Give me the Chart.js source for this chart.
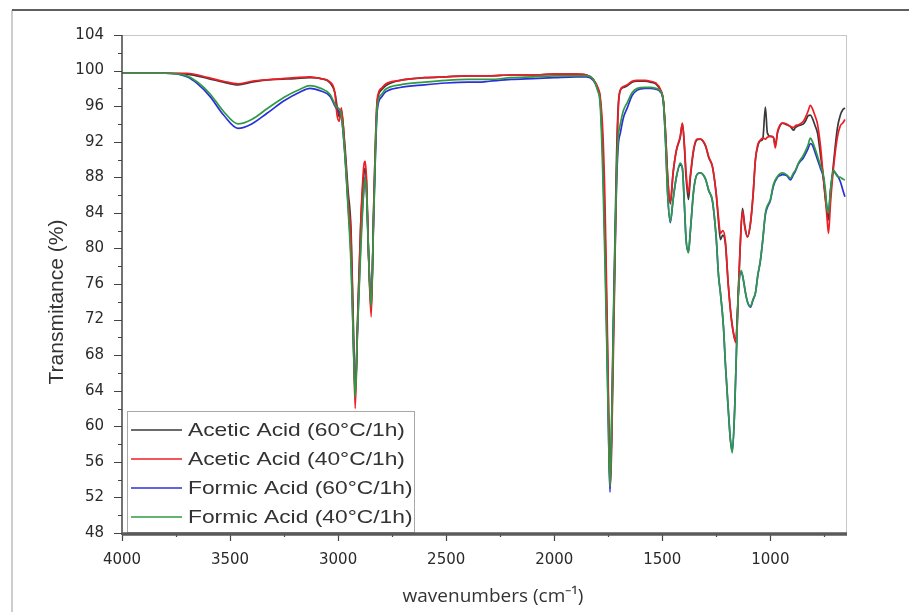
<!DOCTYPE html>
<html lang="en">
<head>
  <meta charset="UTF-8" />
  <title>FTIR spectra</title>
  <script src="https://cdn.jsdelivr.net/npm/chart.js"></script>
  <style>
    body { margin: 0; background: #fff; }
    #wrap { width: 909px; height: 612px; position: relative; }
  </style>
</head>
<body>
  <div id="wrap"><canvas id="ftirChart"></canvas></div>

  <script>
    // wavenumbers (cm-1) for the two acetic acid runs
    const aceticWn = [4000, 3900, 3800, 3700, 3600, 3530, 3463, 3400, 3300, 3200, 3130, 3080, 3037, 3015, 3005, 2995, 2985, 2970, 2954, 2940, 2930, 2921, 2910, 2895, 2880, 2875, 2868, 2860, 2847, 2835, 2819, 2800, 2780, 2713, 2600, 2500, 2400, 2300, 2200, 2100, 2000, 1900, 1850, 1819, 1800, 1787, 1775, 1765, 1755, 1747, 1742, 1736, 1728, 1720, 1712, 1704, 1694, 1680, 1662, 1640, 1616, 1580, 1555, 1530, 1509, 1495, 1485, 1475, 1463, 1450, 1435, 1417, 1407, 1398, 1390, 1379, 1370, 1355, 1340, 1324, 1300, 1285, 1268, 1250, 1240, 1231, 1220, 1208, 1195, 1180, 1165, 1160, 1150, 1140, 1129, 1118, 1106, 1092, 1080, 1069, 1058, 1046, 1035, 1023, 1014, 1000, 986, 977, 967, 955, 944, 925, 907, 893, 884, 870, 847, 838, 826, 815, 805, 793, 782, 768, 755, 745, 738, 731, 722, 708, 690, 676, 665, 655];
    const acetic60 = [99.7, 99.7, 99.7, 99.6, 99.1, 98.7, 98.4, 98.7, 99.0, 99.1, 99.2, 99.1, 98.6, 97.5, 96.0, 94.8, 95.5, 92.0, 86.5, 82.0, 72.0, 63.5, 72.0, 83.0, 88.5, 89.0, 87.0, 80.0, 73.0, 85.0, 96.5, 97.8, 98.3, 98.9, 99.2, 99.3, 99.4, 99.4, 99.5, 99.5, 99.6, 99.6, 99.5, 99.0, 98.0, 96.7, 91.0, 82.0, 70.0, 59.0, 53.8, 58.0, 70.0, 80.0, 90.0, 96.0, 97.8, 98.1, 98.3, 98.7, 98.8, 98.8, 98.7, 98.5, 97.8, 96.5, 93.0, 88.0, 85.0, 88.5, 91.0, 92.5, 94.0, 91.5, 88.0, 85.5, 88.0, 91.0, 92.2, 92.3, 91.5, 90.2, 89.2, 86.0, 83.0, 81.0, 81.5, 80.5, 76.0, 72.0, 69.8, 69.6, 74.0, 80.0, 84.5, 82.5, 81.3, 82.8, 86.0, 90.0, 91.5, 92.1, 92.3, 95.9, 93.0, 92.6, 92.5, 91.6, 93.0, 93.8, 94.1, 93.9, 93.7, 93.3, 93.6, 93.8, 94.0, 94.3, 94.9, 95.0, 94.6, 93.8, 93.0, 90.5, 88.0, 85.5, 84.3, 83.2, 86.0, 89.5, 93.5, 95.0, 95.6, 95.8];
    const acetic40 = [99.7, 99.7, 99.7, 99.7, 99.2, 98.8, 98.5, 98.8, 99.0, 99.2, 99.3, 99.1, 98.7, 97.5, 95.0, 94.3, 95.8, 91.5, 85.5, 81.0, 71.0, 62.0, 71.5, 83.0, 89.5, 89.8, 87.5, 80.0, 72.3, 85.0, 96.8, 98.0, 98.5, 98.9, 99.2, 99.3, 99.4, 99.4, 99.5, 99.5, 99.6, 99.6, 99.5, 99.0, 98.2, 97.0, 93.0, 85.0, 72.0, 60.0, 53.3, 56.0, 66.0, 77.0, 88.0, 95.5, 97.8, 98.2, 98.4, 98.8, 98.9, 98.9, 98.8, 98.6, 97.9, 96.6, 93.0, 88.0, 85.2, 88.5, 91.0, 92.6, 94.1, 91.8, 88.5, 86.2, 88.3, 91.2, 92.3, 92.3, 91.6, 90.3, 89.2, 86.0, 83.5, 81.7, 82.0, 80.8, 76.0, 72.0, 69.8, 69.4, 74.0, 80.0, 84.2, 82.3, 81.3, 82.9, 86.0, 90.0, 91.7, 92.2, 92.4, 92.3, 92.5, 92.6, 92.5, 91.3, 93.1, 93.9, 94.1, 94.0, 93.7, 93.6, 93.8, 93.9, 94.3, 94.7, 95.4, 96.1, 95.7, 94.9, 94.0, 91.5, 88.0, 85.5, 83.5, 81.7, 85.0, 89.0, 92.5, 93.8, 94.1, 94.5];

    // wavenumbers (cm-1) for the two formic acid runs
    const formicWn = [4000, 3900, 3800, 3700, 3650, 3593, 3530, 3463, 3400, 3329, 3250, 3176, 3130, 3080, 3037, 3010, 3000, 2985, 2970, 2954, 2940, 2930, 2921, 2910, 2895, 2880, 2875, 2868, 2860, 2847, 2835, 2819, 2800, 2780, 2713, 2600, 2500, 2400, 2350, 2300, 2200, 2100, 2000, 1900, 1850, 1819, 1800, 1787, 1775, 1765, 1755, 1747, 1742, 1736, 1728, 1720, 1712, 1704, 1694, 1680, 1662, 1640, 1616, 1580, 1555, 1530, 1509, 1495, 1485, 1475, 1463, 1450, 1435, 1417, 1407, 1398, 1390, 1379, 1370, 1355, 1340, 1324, 1300, 1285, 1268, 1250, 1240, 1231, 1217, 1208, 1195, 1185, 1176, 1165, 1155, 1148, 1135, 1129, 1115, 1106, 1092, 1080, 1069, 1058, 1046, 1035, 1023, 1014, 1000, 986, 967, 955, 944, 925, 907, 893, 884, 870, 847, 826, 815, 805, 793, 782, 768, 755, 745, 738, 731, 722, 708, 690, 676, 665, 655];
    const formic60 = [99.7, 99.7, 99.7, 99.3, 98.5, 97.1, 95.0, 93.5, 94.0, 95.2, 96.6, 97.6, 98.0, 97.7, 97.1, 95.8, 95.5, 94.8, 91.0, 85.0, 79.0, 70.0, 64.0, 71.0, 81.0, 87.0, 88.0, 86.0, 80.0, 74.0, 84.0, 95.5, 97.0, 97.6, 98.1, 98.4, 98.6, 98.7, 98.7, 98.8, 99.0, 99.1, 99.2, 99.3, 99.3, 98.9, 98.0, 96.5, 90.0, 80.0, 68.0, 57.0, 52.6, 57.0, 68.0, 78.0, 87.0, 91.5, 93.0, 94.7, 95.8, 97.2, 97.8, 98.0, 98.0, 97.9, 97.6, 96.5, 92.0, 86.0, 82.9, 85.5, 88.0, 89.4, 89.0, 85.0, 81.0, 79.6, 82.0, 86.5, 88.3, 88.5, 87.8, 86.5, 85.3, 81.0, 77.0, 75.0, 71.2, 67.0, 62.0, 58.5, 57.2, 62.0, 70.0, 75.0, 77.3, 77.0, 75.0, 74.0, 73.4, 74.2, 75.0, 77.0, 78.6, 81.0, 83.8, 84.6, 85.4, 87.0, 88.0, 88.2, 88.3, 88.2, 87.7, 88.3, 88.7, 89.5, 90.2, 91.2, 91.8, 91.6, 90.8, 90.0, 89.0, 88.0, 86.0, 84.5, 84.0, 86.5, 88.6, 88.2, 87.5, 86.6, 85.8];
    const formic40 = [99.7, 99.7, 99.7, 99.4, 98.7, 97.4, 95.4, 94.0, 94.5, 95.7, 97.0, 97.9, 98.3, 98.0, 97.3, 96.0, 95.8, 95.0, 91.0, 84.5, 78.0, 70.0, 63.2, 71.0, 80.0, 87.0, 87.9, 86.0, 80.0, 73.5, 84.0, 96.0, 97.3, 97.9, 98.4, 98.7, 98.9, 99.0, 99.0, 99.0, 99.2, 99.3, 99.4, 99.4, 99.4, 99.0, 97.8, 96.0, 88.0, 78.0, 67.0, 57.0, 53.2, 58.0, 69.0, 79.0, 88.0, 92.5, 94.0, 95.5, 96.4, 97.5, 98.0, 98.1, 98.1, 98.0, 97.7, 96.5, 92.0, 86.0, 83.0, 85.5, 88.0, 89.6, 89.0, 85.0, 81.0, 79.5, 82.0, 86.5, 88.3, 88.5, 87.8, 86.5, 85.4, 81.0, 77.0, 75.0, 71.2, 67.0, 62.0, 58.5, 57.0, 62.0, 70.0, 75.0, 77.5, 77.0, 75.0, 74.0, 73.5, 74.3, 75.0, 77.0, 78.7, 81.0, 84.0, 84.8, 85.5, 87.2, 88.1, 88.4, 88.5, 88.3, 87.9, 88.5, 88.8, 89.6, 90.5, 91.6, 92.4, 92.0, 91.2, 90.4, 89.3, 88.3, 86.5, 84.5, 84.0, 86.5, 88.8, 88.1, 88.0, 87.8, 87.7];

    const seriesLabels = ['Acetic Acid (60°C/1h)', 'Acetic Acid (40°C/1h)', 'Formic Acid (60°C/1h)', 'Formic Acid (40°C/1h)'];
    const seriesColors = ['#3a3a3a', '#ee1c25', '#2b2fd8', '#2f9a45'];

    const xTickValues = [4000, 3500, 3000, 2500, 2000, 1500, 1000];
    const yTickValues = [48, 52, 56, 60, 64, 68, 72, 76, 80, 84, 88, 92, 96, 100, 104];
    const xTitle = 'wavenumbers (cm⁻¹)';
    const yTitle = 'Transmitance (%)';

    const toPoints = (xs, ys) => xs.map((x, i) => ({ x: x, y: ys[i] }));

    // outer frame, tick marks, axis lines, axis titles and the boxed legend
    const frameAndLegend = {
      id: 'frameAndLegend',
      beforeDraw(chart) {
        const ctx = chart.ctx;
        ctx.save();
        ctx.fillStyle = '#fff';
        ctx.fillRect(0, 0, chart.width, chart.height);
        ctx.strokeStyle = '#bdbdbd';
        ctx.lineWidth = 1.5;
        ctx.beginPath();
        ctx.moveTo(12, 10); ctx.lineTo(12, chart.height);
        ctx.stroke();
        ctx.strokeStyle = '#5f5f5f';
        ctx.lineWidth = 2;
        ctx.beginPath();
        ctx.moveTo(12, 10); ctx.lineTo(chart.width, 10);
        ctx.stroke();
        ctx.restore();
      },
      afterDatasetsDraw(chart) {
        const ctx = chart.ctx;
        ctx.save();
        ctx.fillStyle = '#fff';
        ctx.fillRect(127, 411, 287, 121);
        ctx.strokeStyle = '#a8a8a8';
        ctx.lineWidth = 1;
        ctx.strokeRect(127.5, 411.5, 287, 121);
        const rows = [430, 459, 488, 517];
        ctx.font = '19px "Liberation Sans", Arial, sans-serif';
        ctx.textBaseline = 'middle';
        chart.data.datasets.forEach((ds, i) => {
          const y = rows[i];
          ctx.strokeStyle = ds.borderColor;
          ctx.lineWidth = 1.5;
          ctx.beginPath();
          ctx.moveTo(131, y); ctx.lineTo(182, y);
          ctx.stroke();
          ctx.fillStyle = '#333';
          ctx.save();
          ctx.translate(188, y + 1);
          ctx.scale(1.2, 1);
          ctx.fillText(ds.label, 0, 0);
          ctx.restore();
        });
        ctx.restore();
      },
      afterDraw(chart) {
        const ctx = chart.ctx;
        const a = chart.chartArea;
        const xs = chart.scales.x, ys = chart.scales.y;
        ctx.save();
        // light top and right border
        ctx.strokeStyle = '#c8c8c8';
        ctx.lineWidth = 1;
        ctx.beginPath();
        ctx.moveTo(a.left, a.top + 0.5); ctx.lineTo(a.right, a.top + 0.5);
        ctx.moveTo(a.right + 0.5, a.top); ctx.lineTo(a.right + 0.5, a.bottom);
        ctx.stroke();
        // y ticks, major and minor
        ctx.strokeStyle = '#444';
        ctx.lineWidth = 1.2;
        ctx.beginPath();
        yTickValues.forEach((v) => {
          const y = Math.round(ys.getPixelForValue(v)) + 0.5;
          ctx.moveTo(a.left - 8, y); ctx.lineTo(a.left, y);
          if (v < 104) {
            const ym = Math.round(ys.getPixelForValue(v + 2)) + 0.5;
            ctx.moveTo(a.left - 4, ym); ctx.lineTo(a.left, ym);
          }
        });
        // x ticks, major and minor
        xTickValues.forEach((w) => {
          const x = Math.round(xs.getPixelForValue(w)) + 0.5;
          ctx.moveTo(x, a.bottom); ctx.lineTo(x, a.bottom + 8);
          const xm = Math.round(xs.getPixelForValue(w - 250)) + 0.5;
          ctx.moveTo(xm, a.bottom); ctx.lineTo(xm, a.bottom + 4);
        });
        ctx.stroke();
        // left axis
        ctx.strokeStyle = '#444';
        ctx.lineWidth = 1.5;
        ctx.beginPath();
        ctx.moveTo(a.left, a.top); ctx.lineTo(a.left, a.bottom + 2);
        ctx.stroke();
        // thick bottom axis
        ctx.strokeStyle = '#5a5a5a';
        ctx.lineWidth = 3.5;
        ctx.beginPath();
        ctx.moveTo(a.left, a.bottom + 1); ctx.lineTo(a.right + 1, a.bottom + 1);
        ctx.stroke();
        // axis titles
        ctx.fillStyle = '#333';
        ctx.textAlign = 'center';
        ctx.textBaseline = 'middle';
        ctx.font = '19px "Open Sans", sans-serif';
        ctx.fillText(xTitle, 493, 597);
        ctx.translate(57, 302);
        ctx.rotate(-Math.PI / 2);
        ctx.font = '21px "Liberation Sans", Arial, sans-serif';
        ctx.fillText(yTitle, 0, 0);
        ctx.restore();
      }
    };

    const ctx = document.getElementById('ftirChart').getContext('2d');
    new Chart(ctx, {
      type: 'line',
      data: {
        datasets: [
          { label: seriesLabels[0], data: toPoints(aceticWn, acetic60), borderColor: seriesColors[0], order: 3 },
          { label: seriesLabels[1], data: toPoints(aceticWn, acetic40), borderColor: seriesColors[1], order: 1 },
          { label: seriesLabels[2], data: toPoints(formicWn, formic60), borderColor: seriesColors[2], order: 2 },
          { label: seriesLabels[3], data: toPoints(formicWn, formic40), borderColor: seriesColors[3], order: 0 }
        ]
      },
      options: {
        responsive: true,
        maintainAspectRatio: false,
        animation: false,
        layout: { padding: { left: 44, top: 35, right: 63, bottom: 0 } },
        elements: {
          point: { radius: 0 },
          line: { borderWidth: 1.7, cubicInterpolationMode: 'monotone', fill: false }
        },
        plugins: {
          legend: { display: false },
          tooltip: { enabled: false }
        },
        scales: {
          x: {
            type: 'linear',
            reverse: true,
            min: 650,
            max: 4000,
            grid: { display: false, drawTicks: false },
            border: { display: false },
            afterBuildTicks(scale) { scale.ticks = xTickValues.map(v => ({ value: v })); },
            ticks: {
              maxRotation: 0,
              autoSkip: false,
              padding: 18,
              color: '#2a2a2a',
              font: { family: 'DejaVu Sans', size: 15 },
              callback: (v) => String(v)
            },
            afterFit(scale) { scale.height = 79; }
          },
          y: {
            min: 48,
            max: 104,
            grid: { display: false, drawTicks: false },
            border: { display: false },
            afterBuildTicks(scale) { scale.ticks = yTickValues.map(v => ({ value: v })); },
            ticks: {
              autoSkip: false,
              padding: 18,
              color: '#2a2a2a',
              font: { family: 'DejaVu Sans', size: 15 },
              callback: (v) => String(v)
            },
            afterFit(scale) { scale.width = 78; }
          }
        }
      },
      plugins: [frameAndLegend]
    });
  </script>
</body>
</html>
